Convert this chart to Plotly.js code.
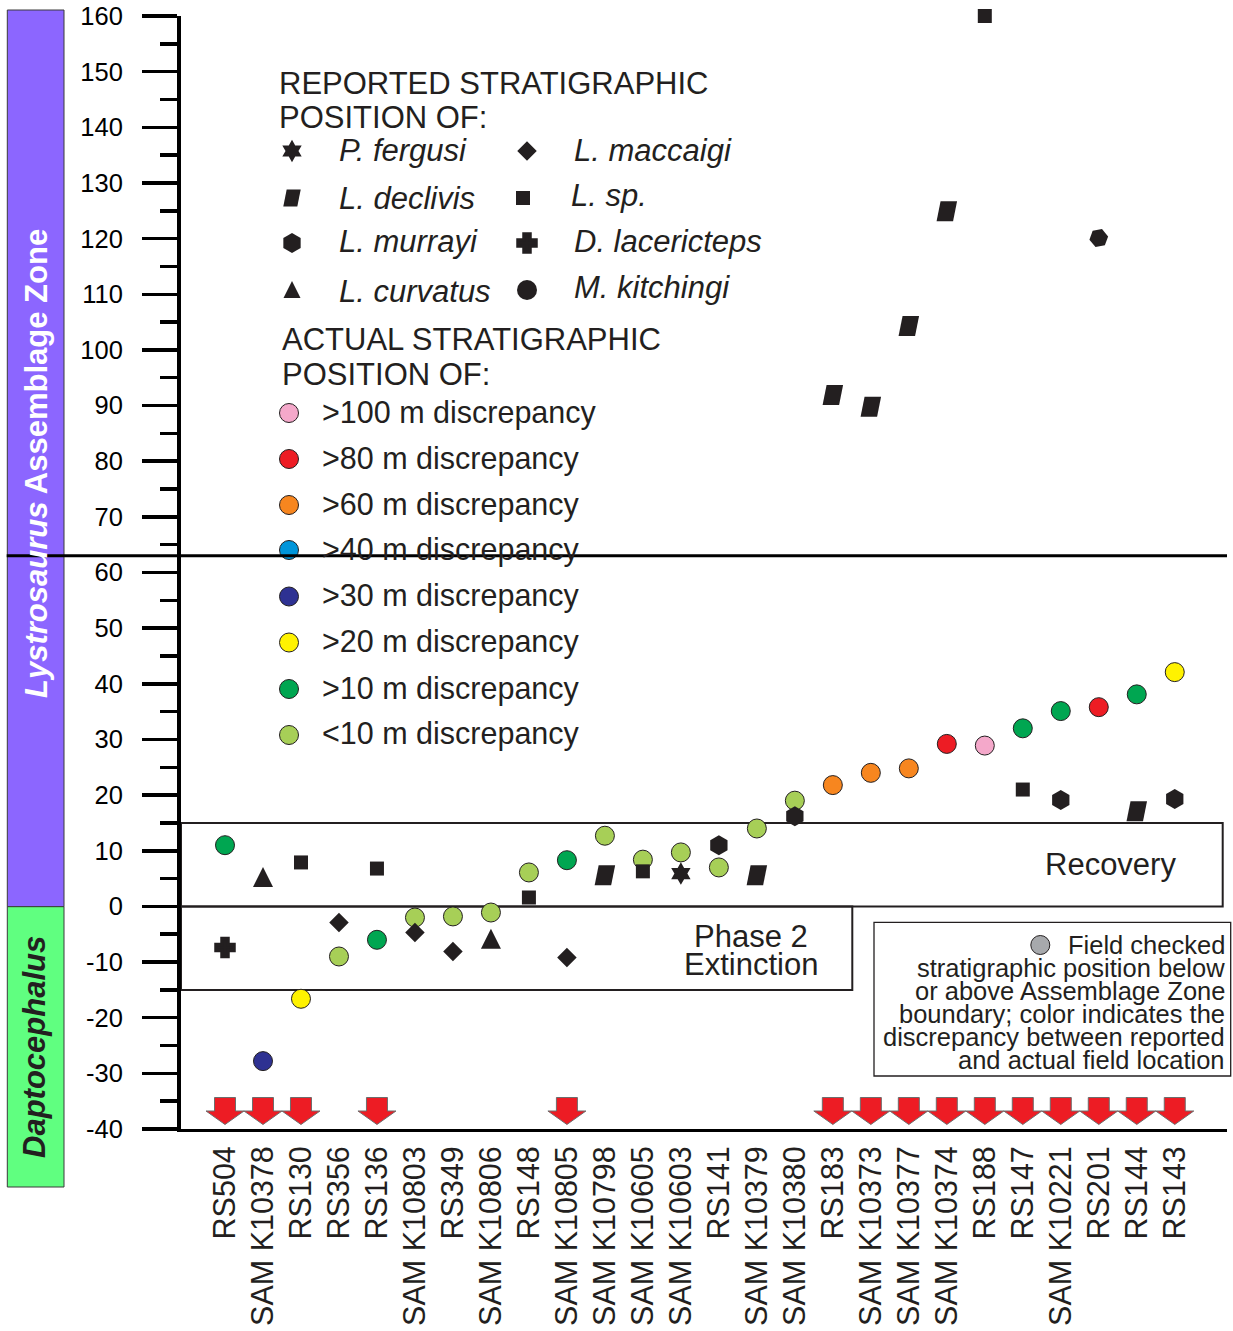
<!DOCTYPE html>
<html>
<head>
<meta charset="utf-8">
<script src="https://cdn.plot.ly/plotly-3.0.1.min.js"></script>
<style>body{margin:0;background:#fff}#chart{width:1233px;height:1331px}</style>
</head>
<body>
<div id="chart"></div>
<script>
// ---------------- DATA ----------------
const specimens = ['RS504','SAM K10378','RS130','RS356','RS136','SAM K10803','RS349','SAM K10806','RS148','SAM K10805','SAM K10798','SAM K10605','SAM K10603','RS141','SAM K10379','SAM K10380','RS183','SAM K10373','SAM K10377','SAM K10374','RS188','RS147','SAM K10221','RS201','RS144','RS143'];
const reportedTaxon = ['D. lacericteps','L. curvatus','L. sp.','L. maccaigi','L. sp.','L. maccaigi','L. maccaigi','L. curvatus','L. sp.','L. maccaigi','L. declivis','L. sp.','P. fergusi','L. murrayi','L. declivis','L. murrayi','L. declivis','L. declivis','L. declivis','L. declivis','L. sp.','L. sp.','L. murrayi','M. kitchingi','L. declivis','L. murrayi'];
const reportedPosition = [-7.4, 5.2, 7.9, -2.9, 6.8, -4.7, -8.1, -5.9, 1.6, -9.2, 5.6, 6.3, 5.9, 11.0, 5.6, 16.2, 91.9, 89.8, 104.3, 124.9, 160.0, 21.0, 19.1, 120.1, 17.1, 19.3];
const actualPosition = [11.0, -27.8, -16.6, -9.0, -6.0, -2.0, -1.8, -1.1, 6.1, 8.3, 12.7, 8.4, 9.7, 7.0, 14.0, 19.0, 21.8, 24.0, 24.8, 29.2, 28.9, 32.0, 35.1, 35.8, 38.1, 42.1];
const discrepancyClass = ['>10','>30','>20','<10','>10','<10','<10','<10','<10','>10','<10','<10','<10','<10','<10','<10','>60','>60','>60','>80','>100','>10','>10','>80','>10','>20'];
const fieldCheckedBelow = [1,1,1,0,1,0,0,0,0,1,0,0,0,0,0,0,1,1,1,1,1,1,1,1,1,1];
const legendTaxa = ['P. fergusi','L. maccaigi','L. declivis','L. sp.','L. murrayi','D. lacericteps','L. curvatus','M. kitchingi'];
const discrepancyKeys = ['>100','>80','>60','>40','>30','>20','>10','<10'];
const discrepancyLabels = ['>100 m discrepancy','>80 m discrepancy','>60 m discrepancy','>40 m discrepancy','>30 m discrepancy','>20 m discrepancy','>10 m discrepancy','<10 m discrepancy'];
const yTickValues = [-40,-30,-20,-10,0,10,20,30,40,50,60,70,80,90,100,110,120,130,140,150,160];
const yTickLabels = ['-40','-30','-20','-10','0','10','20','30','40','50','60','70','80','90','100','110','120','130','140','150','160'];
const zoneBoundary = 63;
const recoveryZone = [0, 15];
const extinctionZone = [-15, 0];

// ---------------- STYLE / LAYOUT CONSTANTS ----------------
const FONT = 'Liberation Sans, Arial, Helvetica, sans-serif';
const INK = '#231F20';
const PX = {L:181, R:1227, T:16, B:1129, x0:225, dx:37.99};
const xRange = [(PX.L-PX.x0)/PX.dx, (PX.R-PX.x0)/PX.dx];
const yRange = [-40,160];
const yPerPx = (yRange[1]-yRange[0])/(PX.B-PX.T);
const paperX = px => (px-PX.L)/(PX.R-PX.L);
const paperY = py => (PX.B-py)/(PX.B-PX.T);
const yFromPx = py => yRange[1]-(py-PX.T)*yPerPx;

const classColor = {'>100':'#F4A8CA','>80':'#ED1C24','>60':'#F7861F','>40':'#0095DA','>30':'#2E3192','>20':'#FFF200','>10':'#00A651','<10':'#A7CF57'};
const taxonMarker = {
  'P. fergusi':{symbol:'hexagram', size:17, angle:0, lw:0},
  'L. maccaigi':{symbol:'diamond', size:15, angle:0, lw:0},
  'L. sp.':{symbol:'square', size:14, angle:0, lw:0},
  'L. murrayi':{symbol:'hexagon', size:20, angle:0, lw:0},
  'D. lacericteps':{symbol:'cross', size:15, angle:0, lw:3.5},
  'M. kitchingi':{symbol:'hexagon2', size:19, angle:-10, lw:0}
};
// polygon taxa (offsets in px, y downwards)
const taxonPolygon = {
  'L. declivis':[[-6.25,-10],[10.25,-10],[6.25,10],[-10.25,10]],
  'L. curvatus':[[0,-10.5],[10,9.5],[-10,9.5]]
};
const arrowGeom = {stemHalf:10.5, headHalf:19, stemTopPx:1097.5, headBasePx:1111, tipPx:1124.5};

// legend layout (pixel positions)
const taxaKeyPos = {'P. fergusi':[292,151],'L. maccaigi':[527,151],'L. declivis':[292,198],'L. sp.':[523,198],'L. murrayi':[292,243],'D. lacericteps':[527,243],'L. curvatus':[292,290],'M. kitchingi':[527,290]};
const taxaTextPos = {'P. fergusi':[337,150],'L. maccaigi':[572,150],'L. declivis':[337,199],'L. sp.':[569,195],'L. murrayi':[337,242],'D. lacericteps':[572,242],'L. curvatus':[337,291],'M. kitchingi':[572,287]};
const discKeyX = 289, discTextX = 320;
const discKeyY = [413,459,505,550,596.5,642.5,689,735];

// ---------------- TRACES ----------------
const idx = specimens.map((_,i)=>i);
const traces = [];

// actual positions (coloured circles)
traces.push({
  type:'scatter', mode:'markers', x:idx, y:actualPosition, hoverinfo:'skip', cliponaxis:false,
  marker:{symbol:'circle', size:19, opacity:1, color:discrepancyClass.map(c=>classColor[c]), line:{color:INK, width:1}}
});
// reported positions (black symbols)
const symIdx = idx.filter(i=>taxonMarker[reportedTaxon[i]]);
traces.push({
  type:'scatter', mode:'markers', x:symIdx, y:symIdx.map(i=>reportedPosition[i]), hoverinfo:'skip', cliponaxis:false,
  marker:{symbol:symIdx.map(i=>taxonMarker[reportedTaxon[i]].symbol),
          size:symIdx.map(i=>taxonMarker[reportedTaxon[i]].size),
          angle:symIdx.map(i=>taxonMarker[reportedTaxon[i]].angle),
          opacity:1, color:INK,
          line:{color:INK, width:symIdx.map(i=>taxonMarker[reportedTaxon[i]].lw)}}
});
// legend keys (pixel overlay axes)
const legSym = legendTaxa.filter(t=>!taxonPolygon[t]);
traces.push({
  type:'scatter', mode:'markers', xaxis:'x2', yaxis:'y2', hoverinfo:'skip',
  x:legSym.map(t=>taxaKeyPos[t][0]), y:legSym.map(t=>taxaKeyPos[t][1]),
  marker:{symbol:legSym.map(t=>t==='M. kitchingi'?'circle':taxonMarker[t].symbol),
          size:legSym.map(t=>t==='M. kitchingi'?20:taxonMarker[t].size),
          opacity:1, color:INK,
          line:{color:INK, width:legSym.map(t=>t==='M. kitchingi'?0:taxonMarker[t].lw)}}
});
traces.push({
  type:'scatter', mode:'markers', xaxis:'x2', yaxis:'y2', hoverinfo:'skip',
  x:discKeyY.map(()=>discKeyX).concat([1040.3]), y:discKeyY.concat([945]),
  marker:{symbol:'circle', size:19, opacity:1, color:discrepancyKeys.map(k=>classColor[k]).concat(['#A7A9AC']), line:{color:INK,width:1}}
});

// ---------------- SHAPES ----------------
const shapes = [];
// zone bars
shapes.push({type:'rect', xref:'paper', yref:'paper', x0:paperX(7.3), x1:paperX(64), y0:paperY(906.7), y1:paperY(10), fillcolor:'#8C66FF', line:{color:'#3a3a3a', width:1}, layer:'below'});
shapes.push({type:'rect', xref:'paper', yref:'paper', x0:paperX(7.3), x1:paperX(64), y0:paperY(1187), y1:paperY(906.7), fillcolor:'#60FF80', line:{color:'#3a3a3a', width:1}, layer:'below'});
// recovery / extinction boxes
shapes.push({type:'rect', xref:'paper', yref:'y', x0:0, x1:paperX(1222.7), y0:recoveryZone[0], y1:recoveryZone[1], fillcolor:'rgba(0,0,0,0)', line:{color:INK, width:2}, layer:'below'});
shapes.push({type:'rect', xref:'paper', yref:'y', x0:0, x1:paperX(852.3), y0:extinctionZone[0], y1:extinctionZone[1], fillcolor:'rgba(0,0,0,0)', line:{color:INK, width:2}, layer:'below'});
// field-check note box
shapes.push({type:'rect', xref:'paper', yref:'paper', x0:paperX(874), x1:paperX(1230.7), y0:paperY(1076), y1:paperY(922.3), fillcolor:'rgba(0,0,0,0)', line:{color:INK, width:1.3}, layer:'below'});
// polygon markers for data
function dataPath(i, v, verts){
  return verts.map((p,k)=>(k?'L':'M')+(i+p[0]/PX.dx).toFixed(4)+','+(v-p[1]*yPerPx).toFixed(4)).join(' ')+' Z';
}
idx.filter(i=>taxonPolygon[reportedTaxon[i]]).forEach(i=>{
  shapes.push({type:'path', xref:'x', yref:'y', path:dataPath(i, reportedPosition[i], taxonPolygon[reportedTaxon[i]]), fillcolor:INK, line:{width:0}, layer:'above'});
});
// polygon legend keys
legendTaxa.filter(t=>taxonPolygon[t]).forEach(t=>{
  const c = taxaKeyPos[t], s = 0.85;
  const path = taxonPolygon[t].map((p,k)=>(k?'L':'M')+(c[0]+p[0]*s)+','+(c[1]+p[1]*s)).join(' ')+' Z';
  shapes.push({type:'path', xref:'x2', yref:'y2', path:path, fillcolor:INK, line:{width:0}, layer:'above'});
});
// red arrows (field-checked below the plotted range)
idx.filter(i=>fieldCheckedBelow[i]).forEach(i=>{
  const g = arrowGeom;
  const sx = g.stemHalf/PX.dx, hx = g.headHalf/PX.dx;
  const yt = yFromPx(g.stemTopPx), yb = yFromPx(g.headBasePx), yp = yFromPx(g.tipPx);
  const pts = [[i-sx,yt],[i+sx,yt],[i+sx,yb],[i+hx,yb],[i,yp],[i-hx,yb],[i-sx,yb]];
  shapes.push({type:'path', xref:'x', yref:'y', path:pts.map((p,k)=>(k?'L':'M')+p[0].toFixed(4)+','+p[1].toFixed(4)).join(' ')+' Z', fillcolor:'#ED1C24', line:{color:'#6d6d6d', width:1}, layer:'above'});
});
// assemblage-zone boundary line
shapes.push({type:'line', xref:'paper', yref:'y', x0:paperX(6.7), x1:1, y0:zoneBoundary, y1:zoneBoundary, line:{color:'#000', width:3}, layer:'above'});

// ---------------- ANNOTATIONS ----------------
const ann = [];
function txt(text, px, py, size, opts){
  ann.push(Object.assign({xref:'paper', yref:'paper', x:paperX(px), y:paperY(py), text:text, showarrow:false,
    xanchor:'left', yanchor:'middle', font:{family:FONT, size:size, color:INK}}, opts||{}));
}
txt('REPORTED STRATIGRAPHIC', 277, 83, 31);
txt('POSITION OF:', 277, 117, 31);
legendTaxa.forEach(t=>txt('<i>'+t+'</i>', taxaTextPos[t][0], taxaTextPos[t][1], 31));
txt('ACTUAL STRATIGRAPHIC', 280, 340, 31);
txt('POSITION OF:', 280, 375, 31);
discrepancyLabels.forEach((l,k)=>txt(l, discTextX, discKeyY[k]-1, 30.5));
txt('Recovery', 1110, 864, 31, {xanchor:'center'});
txt('Phase 2', 751, 936, 31, {xanchor:'center'});
txt('Extinction', 751, 964, 31, {xanchor:'center'});
const noteLines = ['Field checked','stratigraphic position below','or above Assemblage Zone','boundary; color indicates the','discrepancy between reported','and actual field location'];
noteLines.forEach((l,k)=>txt(l, 1227, 945+23*k, 25.5, {xanchor:'right'}));
txt('<b><i>Lystrosaurus</i> Assemblage Zone</b>', 36, 464, 31, {xanchor:'center', textangle:-90, font:{family:FONT, size:31, color:'#ffffff'}});
txt('<b><i>Daptocephalus</i></b>', 34, 1047, 31, {xanchor:'center', textangle:-90, font:{family:FONT, size:31, color:INK}});

// ---------------- LAYOUT ----------------
const layout = {
  width:1233, height:1331,
  margin:{l:PX.L, r:1233-PX.R, t:PX.T, b:1331-PX.B, pad:0},
  paper_bgcolor:'#ffffff', plot_bgcolor:'rgba(0,0,0,0)',
  showlegend:false,
  font:{family:FONT, color:INK},
  xaxis:{range:xRange, tickmode:'array', tickvals:idx, ticktext:specimens, tickangle:-90,
    tickfont:{family:FONT, size:30.5, color:INK}, ticks:'', showline:true, linewidth:3, linecolor:'#000',
    showgrid:false, zeroline:false, ticklabelstandoff:2, fixedrange:true},
  yaxis:{range:yRange, tickmode:'array', tickvals:yTickValues, ticktext:yTickLabels, ticks:'outside', ticklen:35, tickwidth:3.5, tickcolor:'#000',
    minor:{dtick:5, tick0:0, ticks:'outside', ticklen:17, tickwidth:3.5, tickcolor:'#000', showgrid:false},
    tickfont:{family:FONT, size:25.5, color:'#000'}, showline:true, linewidth:4, linecolor:'#000',
    showgrid:false, zeroline:false, ticklabelstandoff:14, fixedrange:true},
  xaxis2:{overlaying:'x', range:[PX.L, PX.R], visible:false, fixedrange:true},
  yaxis2:{overlaying:'y', range:[PX.B, PX.T], visible:false, fixedrange:true},
  shapes:shapes,
  annotations:ann
};
Plotly.newPlot('chart', traces, layout, {displayModeBar:false, staticPlot:true});
</script>
</body>
</html>
